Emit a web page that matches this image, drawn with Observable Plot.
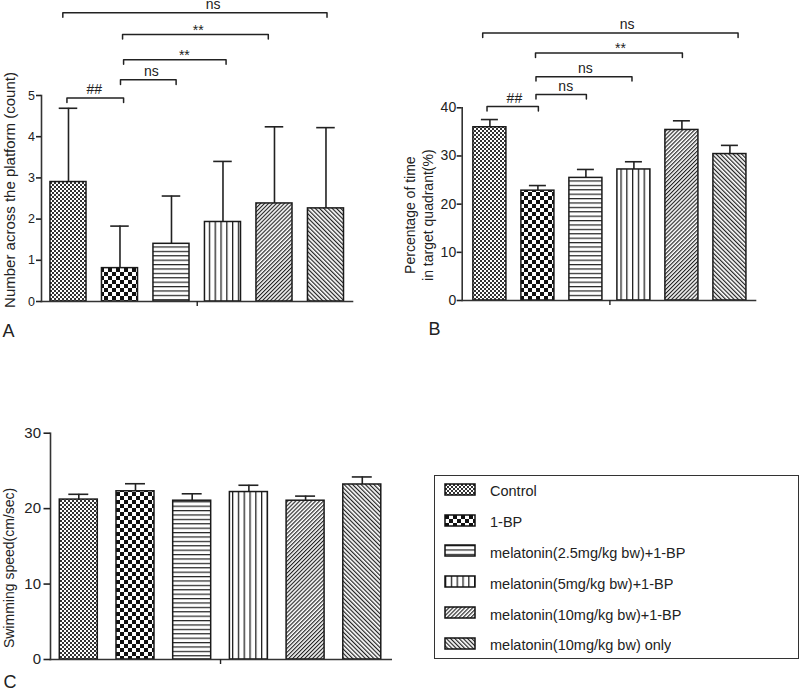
<!DOCTYPE html>
<html>
<head>
<meta charset="utf-8">
<script src="https://cdn.jsdelivr.net/npm/d3@7"></script>
<script src="https://cdn.jsdelivr.net/npm/@observablehq/plot@0.6"></script>
<style>
  body { margin: 0; background: #fff; }
  #wrap { position: relative; width: 800px; height: 690px; overflow: hidden; background: #fff;
          font-family: "Liberation Sans", Arial, Helvetica, sans-serif; }
  #legend { position: absolute; left: 434px; top: 475px; width: 365px; height: 184px;
            border: 1.5px solid #333; box-sizing: border-box; }
  .lgd-swatches { font-family: "Liberation Sans", Arial, sans-serif; font-size: 14.5px; color: #222;
                  margin: 0; padding: 0 0 0 10px; }
  .lgd-swatch { height: 30.8px; padding-bottom: 0; }
  .lgd-swatch > svg { margin-right: 15px; overflow: visible; position: relative; top: -2px; }
  .lgd-swatch rect { stroke: #111; stroke-width: 1.5px; }
</style>
</head>
<body>
<div id="wrap"><div id="legend"></div></div>
<script>
// ---------------- data ----------------
const groups = [
  "Control",
  "1-BP",
  "melatonin(2.5mg/kg bw)+1-BP",
  "melatonin(5mg/kg bw)+1-BP",
  "melatonin(10mg/kg bw)+1-BP",
  "melatonin(10mg/kg bw) only"
];

// Panel A: number of platform crossings (mean, SD)
const crossingMean = [2.90, 0.81, 1.40, 1.93, 2.38, 2.26];
const crossingSD   = [1.79, 1.02, 1.16, 1.47, 1.86, 1.96];
const crossingTicks = [0, 1, 2, 3, 4, 5];
const crossingLabel = "Number across the platform (count)";
// significance brackets: left end, right end, level, label, label position
const crossingBrackets = [
  {x1: -0.03, x2: 1.07, level: 4.94, label: "##", lx: 0.50},
  {x1: 1.01,  x2: 2.09, level: 5.38, label: "ns", lx: 1.61},
  {x1: 1.07,  x2: 3.06, level: 5.87, label: "**", lx: 2.25},
  {x1: 1.05,  x2: 3.88, level: 6.48, label: "**", lx: 2.52},
  {x1: -0.11, x2: 5.02, level: 7.01, label: "ns", lx: 2.81}
];

// Panel B: percentage of time in target quadrant (mean, SD)
const quadrantMean = [35.96, 22.8, 25.45, 27.2, 35.4, 30.4];
const quadrantSD   = [1.6, 1.06, 1.75, 1.6, 1.9, 1.8];
const quadrantTicks = [0, 10, 20, 30, 40];
const quadrantLabel = "Percentage of time\nin target quadrant(%)";
const quadrantBrackets = [
  {x1: -0.06, x2: 1.01, level: 40.25, label: "##", lx: 0.51},
  {x1: 0.96,  x2: 2.01, level: 42.74, label: "ns", lx: 1.58},
  {x1: 0.96,  x2: 2.96, level: 46.47, label: "ns", lx: 1.99},
  {x1: 0.95,  x2: 4.01, level: 51.39, label: "**", lx: 2.72},
  {x1: -0.15, x2: 5.17, level: 55.54, label: "ns", lx: 2.86}
];

// Panel C: swimming speed (mean, SD)
const speedMean = [21.2, 22.3, 21.05, 22.2, 21.05, 23.2];
const speedSD   = [0.7, 1.0, 0.92, 0.9, 0.61, 1.0];
const speedTicks = [0, 10, 20, 30];
const speedLabel = "Swimming speed(cm/sec)";
const speedBrackets = [];

const panelLetters = ["A", "B", "C"];

// ---------------- patterns ----------------
const FONT = '"Liberation Sans", Arial, Helvetica, sans-serif';
const patternIds = ["pat-control", "pat-bp", "pat-h", "pat-v", "pat-fwd", "pat-back"];
const patternFills = patternIds.map(id => `url(#${id})`);

const defsSvg = d3.create("svg").attr("width", 0).attr("height", 0)
  .style("position", "absolute").style("left", "0").style("top", "0");
const defs = defsSvg.append("defs");
function pattern(id, w, h, transform) {
  const p = defs.append("pattern").attr("id", id).attr("patternUnits", "userSpaceOnUse")
    .attr("width", w).attr("height", h);
  if (transform) p.attr("patternTransform", transform);
  p.append("rect").attr("width", w).attr("height", h).attr("fill", "#fff");
  return p;
}
let p = pattern("pat-control", 4, 4);
p.append("rect").attr("width", 2).attr("height", 2).attr("fill", "#333");
p.append("rect").attr("x", 2).attr("y", 2).attr("width", 2).attr("height", 2).attr("fill", "#333");
p = pattern("pat-bp", 8, 8);
p.append("rect").attr("width", 4).attr("height", 4).attr("fill", "#111");
p.append("rect").attr("x", 4).attr("y", 4).attr("width", 4).attr("height", 4).attr("fill", "#111");
p = pattern("pat-h", 8, 4.4);
p.append("rect").attr("width", 8).attr("height", 1.2).attr("fill", "#222");
p = pattern("pat-v", 5.8, 8);
p.append("rect").attr("width", 1.3).attr("height", 8).attr("fill", "#222");
p = pattern("pat-fwd", 2.8, 8, "rotate(45)");
p.append("rect").attr("width", 1.15).attr("height", 8).attr("fill", "#222");
p = pattern("pat-back", 3.0, 8, "rotate(-45)");
p.append("rect").attr("width", 1.2).attr("height", 8).attr("fill", "#222");

const wrap = document.getElementById("wrap");
wrap.prepend(defsSvg.node());

// ---------------- panels ----------------
function panel(cfg) {
  const rows = groups.map((g, i) => ({i, g, mean: cfg.mean[i], top: cfg.mean[i] + cfg.sd[i]}));
  const pts = cfg.brackets.flatMap((b, k) => [
    {k, x: b.x1, y: b.level - cfg.drop},
    {k, x: b.x1, y: b.level},
    {k, x: b.x2, y: b.level},
    {k, x: b.x2, y: b.level - cfg.drop}
  ]);
  const midTick = (groups.length - 1) / 2;
  return Plot.plot({
    width: cfg.width, height: cfg.height,
    marginLeft: cfg.ml, marginRight: cfg.mr, marginTop: cfg.mt, marginBottom: cfg.mb,
    style: {background: "transparent", overflow: "visible", fontFamily: FONT, color: "#222"},
    x: {domain: cfg.xDomain},
    y: {domain: [0, d3.max(cfg.ticks)]},
    color: {type: "ordinal", domain: groups, range: patternFills},
    marks: [
      Plot.ruleX(rows, {x: "i", y1: "mean", y2: "top", stroke: "#222", strokeWidth: 1.6}),
      Plot.ruleY(rows, {y: "top", x1: d => d.i - cfg.cap, x2: d => d.i + cfg.cap, stroke: "#222", strokeWidth: 1.6}),
      Plot.rect(rows, {x1: d => d.i - cfg.half, x2: d => d.i + cfg.half, y1: 0, y2: "mean",
                       fill: "g", stroke: "#1a1a1a", strokeWidth: 1.5}),
      Plot.frame({anchor: "left", stroke: "#333", strokeWidth: 1.6}),
      Plot.frame({anchor: "bottom", stroke: "#333", strokeWidth: 1.6}),
      Plot.axisY({ticks: cfg.ticks, tickSize: cfg.tickSize, tickPadding: cfg.tickPadding,
                  fontSize: cfg.tickFont, strokeWidth: 1.6, label: null, tickFormat: d => d}),
      Plot.axisX({ticks: [midTick], tickSize: 5, tickFormat: () => "", label: null, strokeWidth: 1.4}),
      Plot.line(pts, {x: "x", y: "y", z: "k", stroke: "#222", strokeWidth: 1.5}),
      Plot.text(cfg.brackets.filter(b => b.label !== "**"),
                {x: "lx", y: "level", text: "label", lineAnchor: "bottom", dy: -3.5, fontSize: 14, fill: "#222"}),
      Plot.text(cfg.brackets.filter(b => b.label === "**"),
                {x: "lx", y: "level", text: "label", lineAnchor: "bottom", dy: 0, fontSize: 14, fill: "#222"}),
      Plot.text([cfg.ylabel], {text: d => d, frameAnchor: "left", textAnchor: "middle", lineAnchor: "middle",
                               rotate: -90, dx: cfg.labelDx, dy: cfg.labelDy,
                               fontSize: cfg.labelFont, lineHeight: 1.25, fill: "#222"}),
      Plot.text([cfg.letter], {text: d => d, frameAnchor: "bottom-left", textAnchor: "start", lineAnchor: "bottom",
                               dx: cfg.letterDx, dy: cfg.letterDy, fontSize: 18, fill: "#222"})
    ]
  });
}

function place(el, left, top) {
  el.style.position = "absolute";
  el.style.left = left + "px";
  el.style.top = top + "px";
  wrap.appendChild(el);
}

const A = panel({
  mean: crossingMean, sd: crossingSD, ticks: crossingTicks, brackets: crossingBrackets,
  ylabel: crossingLabel, letter: panelLetters[0],
  width: 400, height: 345, ml: 41, mr: 48, mt: 95, mb: 44,
  xDomain: [-0.524, 5.515], half: 0.35, cap: 0.18, drop: 0.11,
  tickSize: 5, tickPadding: 1.5, tickFont: 12.5,
  labelDx: -33, labelDy: -8.5, labelFont: 15, letterDx: -39, letterDy: 35
});
place(A, 0, 0);

const B = panel({
  mean: quadrantMean, sd: quadrantSD, ticks: quadrantTicks, brackets: quadrantBrackets,
  ylabel: quadrantLabel, letter: panelLetters[1],
  width: 400, height: 345, ml: 61.7, mr: 45, mt: 107.3, mb: 45,
  xDomain: [-0.577, 5.533], half: 0.344, cap: 0.177, drop: 0.93,
  tickSize: 5, tickPadding: 1, tickFont: 14,
  labelDx: -44, labelDy: 11, labelFont: 14, letterDx: -33.7, letterDy: 34
});
place(B, 400, 0);

const C = panel({
  mean: speedMean, sd: speedSD, ticks: speedTicks, brackets: speedBrackets,
  ylabel: speedLabel, letter: panelLetters[2],
  width: 420, height: 290, ml: 50, mr: 29.3, mt: 32.7, mb: 31,
  xDomain: [-0.499, 5.51], half: 0.335, cap: 0.176, drop: 0,
  tickSize: 6.5, tickPadding: 3, tickFont: 15,
  labelDx: -42, labelDy: 21.6, labelFont: 14, letterDx: -47, letterDy: 28
});
place(C, 0, 400);

// ---------------- legend ----------------
const legend = Plot.legend({
  color: {type: "ordinal", domain: groups, range: patternFills},
  columns: 1, swatchWidth: 30, swatchHeight: 11, className: "lgd"
});
document.getElementById("legend").appendChild(legend);
</script>
</body>
</html>
